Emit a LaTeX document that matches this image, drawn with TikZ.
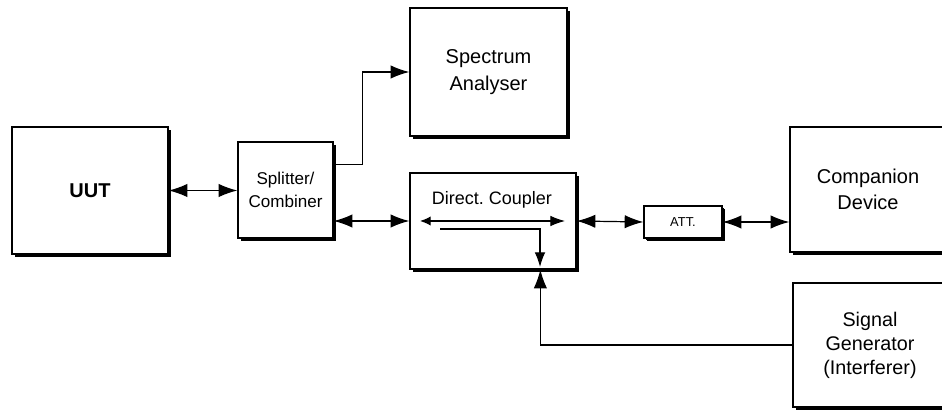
\documentclass[tikz,border=0pt]{standalone}
\usepackage{fontspec}
\setmainfont{Liberation Sans}
\usetikzlibrary{positioning,calc,shadows,arrows.meta}

\tikzset{
  block/.style={draw, line width=1pt, fill=white, align=center, inner sep=2pt,
    drop shadow={shadow xshift=2.2pt, shadow yshift=-2.2pt, fill=black, opacity=1},
    font=\fontsize{15}{20}\selectfont},
  tip/.style={>={Latex[length=14pt,width=10pt]}},
}

\begin{document}
\begin{tikzpicture}[x=0.75pt,y=0.75pt,line width=0.9pt,tip]
\useasboundingbox (0,0) rectangle (942,414);

		%the boxes
		\node[block, minimum width=117pt, minimum height=95.25pt, font=\fontsize{15}{18}\selectfont\bfseries] (uut) at (90,223.5) {UUT};
		\node[block, minimum width=71.25pt, minimum height=72pt, font=\fontsize{12.8}{17}\selectfont] (split) at (285.5,224) {Splitter/\\Combiner};
		\node[block, minimum width=117.75pt, minimum height=96pt] (spec) at (488.5,342) {Spectrum\\Analyser};
		\node[block, minimum width=124.5pt, minimum height=72pt] (coup) at (493,193) {};
		\node[block, minimum width=58.5pt, minimum height=24pt, font=\fontsize{9.7}{11}\selectfont, drop shadow={shadow xshift=1.6pt, shadow yshift=-1.6pt, fill=black, opacity=1}] (att) at (683,192) {ATT.};
		\node[block, minimum width=117pt, minimum height=93.75pt] (comp) at (868,224.5) {Companion\\Device};
		\node[block, minimum width=115.5pt, minimum height=93pt, font=\fontsize{14.8}{18}\selectfont] (sig) at (870,69) {Signal\\Generator\\(Interferer)};

		%inside the coupler
		\node[font=\fontsize{13.5}{16}\selectfont] (dctext) at (492,214) {Direct.\ Coupler};
		\coordinate (cin) at (420,193);
		\coordinate (cout) at (565,193);
		\coordinate (tap) at (440,185);
		\coordinate (tapend) at (540,147);
		\draw[{Latex[length=8pt,width=7pt]}-{Latex[length=11pt,width=8pt]}] (cin) -- (cout);
		\draw[-{Latex[length=11pt,width=8pt]}] (tap) -| (tapend);

		%the connections
		\draw[<->] (uut.east) -- (uut.east -| split.west);
		\draw[->] ($(split.north east)!0.24!(split.south east)$) -- ++(29,0) |- (spec.west);
		\draw[<->] (coup.west -| split.east) -- (coup.west);
		\draw[<->] (coup.east) -- (att.west);
		\draw[<->] (att.east) -- (att.east -| comp.west);
		\draw[->] (sig.west) -| ($(coup.south west)!0.783!(coup.south east)$);

\end{tikzpicture}
\end{document}
